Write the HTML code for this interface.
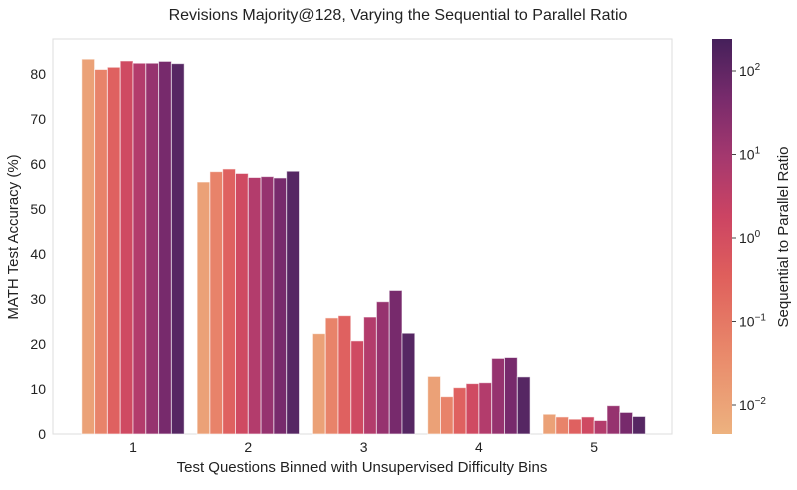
<!DOCTYPE html>
<html><head><meta charset="utf-8"><style>
body{margin:0;background:#fff;font-family:"Liberation Sans",Arial,sans-serif}
svg text{font-family:"Liberation Sans",Arial,sans-serif;fill:#222}
</style></head><body>
<svg id="c" width="797" height="485">
<defs><linearGradient id="g" x1="0" y1="1" x2="0" y2="0">
<stop offset="0" stop-color="#edb27f"/><stop offset="0.2" stop-color="#e98a6b"/><stop offset="0.4" stop-color="#df5f5c"/><stop offset="0.55" stop-color="#cc4463"/><stop offset="0.7" stop-color="#a5386e"/><stop offset="0.85" stop-color="#782b6c"/><stop offset="1" stop-color="#45205a"/></linearGradient></defs>
<text x="398" y="20" text-anchor="middle" font-size="16">Revisions Majority@128, Varying the Sequential to Parallel Ratio</text>
<rect x="53" y="39" width="619" height="395" fill="none" stroke="#ddd"/>
<g id="yt"></g><g id="bars"></g><g id="xt"></g>
<text transform="translate(18,237) rotate(-90)" text-anchor="middle" font-size="15">MATH Test Accuracy (%)</text>
<text x="362" y="472" text-anchor="middle" font-size="15">Test Questions Binned with Unsupervised Difficulty Bins</text>
<rect x="712" y="39" width="20" height="395" fill="url(#g)"/>
<g id="cb"></g>
<text transform="translate(788,237) rotate(-90)" text-anchor="middle" font-size="15">Sequential to Parallel Ratio</text>
</svg>
<script>
const categories=["1","2","3","4","5"];
const s0=[83.3,56.0,22.3,12.8,4.4];
const s1=[81.0,58.3,25.8,8.3,3.8];
const s2=[81.5,58.9,26.3,10.3,3.3];
const s3=[82.9,57.9,20.7,11.2,3.8];
const s4=[82.4,57.0,26.0,11.4,3.0];
const s5=[82.4,57.2,29.4,16.8,6.3];
const s6=[82.8,56.9,31.9,17.0,4.8];
const s7=[82.3,58.4,22.4,12.7,3.9];
const yTicks=[0,10,20,30,40,50,60,70,80];
const cbTicks=[-2,-1,0,1,2];
const series=[s0,s1,s2,s3,s4,s5,s6,s7];
const colors=["#eba177","#e8836a","#df6160","#cf4a62","#b33c6c","#96336f","#772a6c","#562763"];
const NS="http://www.w3.org/2000/svg";
const y=v=>434-v*4.5;
const gx=i=>133+i*115.3;
const bw=12.8;
function el(t,a,p){const e=document.createElementNS(NS,t);for(const k in a)e.setAttribute(k,a[k]);document.getElementById(p).appendChild(e);return e;}
yTicks.forEach(v=>{const t=el("text",{x:46,y:y(v)+5,"text-anchor":"end","font-size":14},"yt");t.textContent=v;

});
categories.forEach((c,i)=>{const t=el("text",{x:gx(i),y:452,"text-anchor":"middle","font-size":14},"xt");t.textContent=c;


series.forEach((s,j)=>{const x=gx(i)-4*bw+j*bw;const r=el("rect",{x:x,y:y(s[i]),width:bw,height:434-y(s[i]),fill:colors[j],stroke:"#fff","stroke-opacity":0.6,"stroke-width":1},"bars");

});});
const cy=d=>238-d*83.5;
cbTicks.forEach(d=>{el("line",{x1:732,x2:736,y1:cy(d),y2:cy(d),stroke:"#444"},"cb");
const t=el("text",{x:739,y:cy(d)+5,"font-size":14},"cb");t.innerHTML='10<tspan dy="-6" font-size="10">'+(d<0?'\u2212'+(-d):d)+'</tspan>';

});
</script>
</body></html>
